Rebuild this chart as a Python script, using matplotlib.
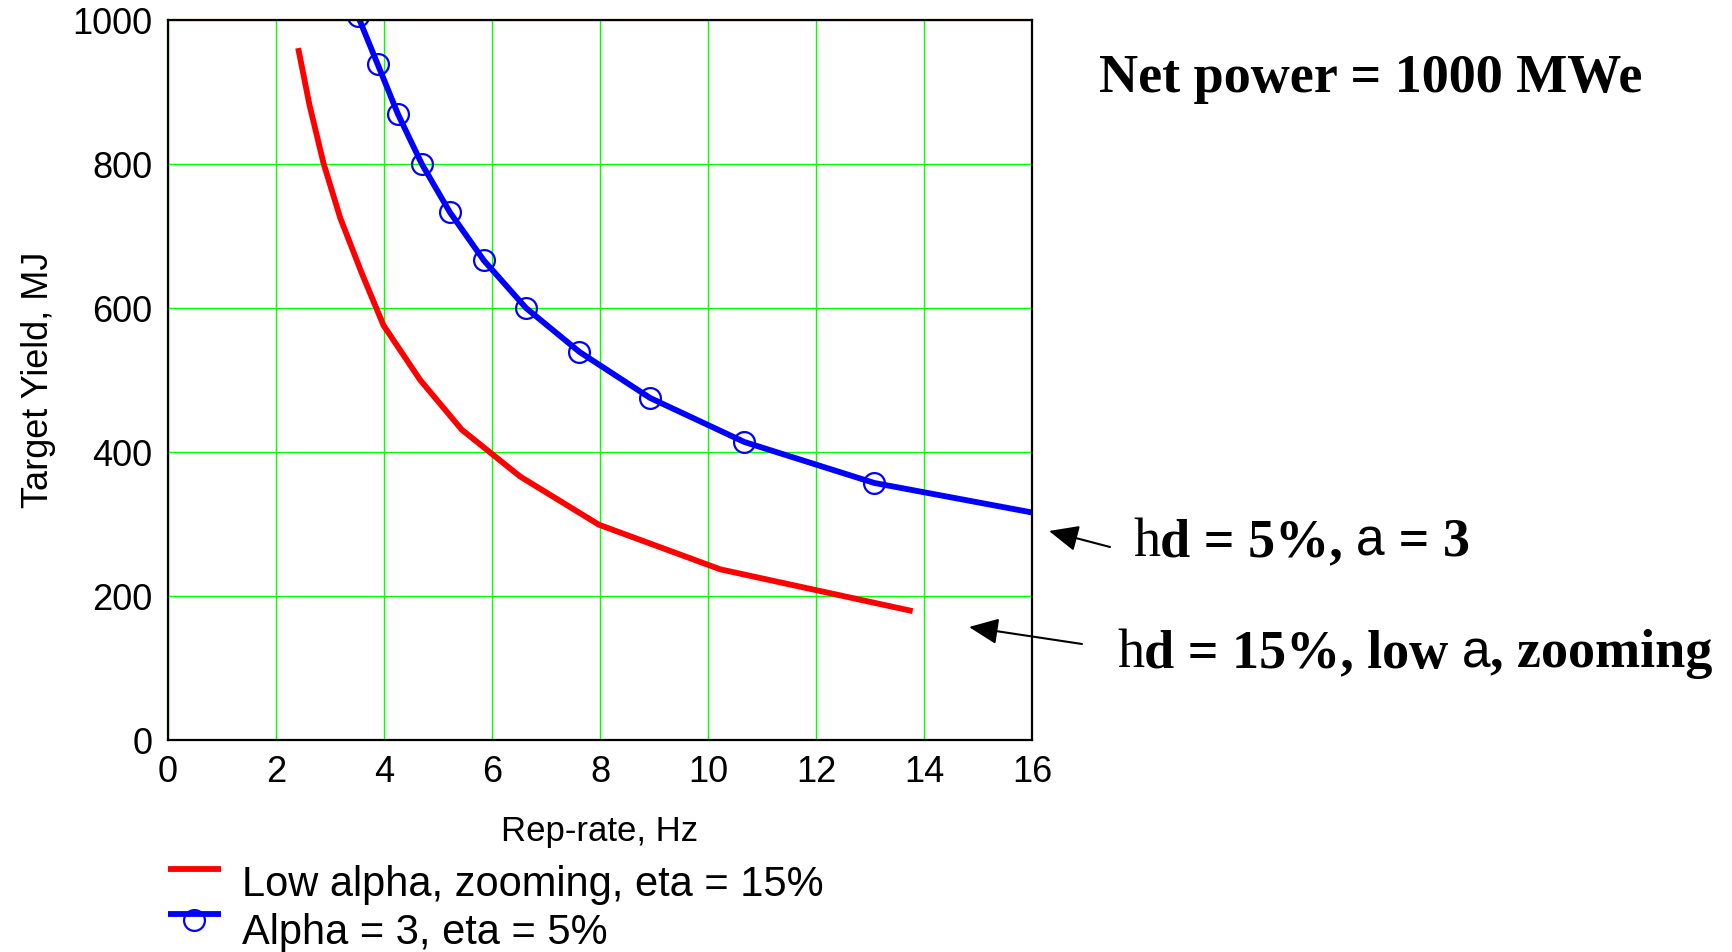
import matplotlib
matplotlib.use("Agg")
import matplotlib.pyplot as plt
from matplotlib.lines import Line2D
from matplotlib.patches import FancyArrowPatch

# ---- data ----
red_x = [2.41, 2.62, 2.88, 3.19, 3.59, 3.99, 4.67, 5.44, 6.52, 7.98, 10.23, 13.79]
red_y = [961, 882, 801, 725, 648, 576, 500, 431, 366, 299, 237, 179]

blue_x = [3.52, 3.88, 4.26, 4.70, 5.22, 5.85, 6.63, 7.62, 8.93, 10.67, 13.08]
blue_y = [1005, 939, 869, 800, 733, 666, 600, 539, 475, 414, 357]
blue_line_x = blue_x + [16.0]
blue_line_y = blue_y + [316]

x_ticks = [0, 2, 4, 6, 8, 10, 12, 14, 16]
y_ticks = [0, 200, 400, 600, 800, 1000]

legend_labels = ["Low alpha, zooming, eta = 15%", "Alpha = 3, eta = 5%"]
title_text = "Net power = 1000 MWe"
# (text, family, weight) pieces for the two curve notes
note_blue = [("h", "serif", "normal"), ("d = 5%, ", "serif", "bold"),
             ("a", "sans", "normal"), (" = 3", "serif", "bold")]
note_red = [("h", "serif", "normal"), ("d = 15%, low ", "serif", "bold"),
            ("a", "sans", "normal"), (", zooming", "serif", "bold")]

W, H = 1733, 952
fig = plt.figure(figsize=(W / 100, H / 100), dpi=100)
ax = fig.add_axes([168 / W, 1 - 740 / H, (1032 - 168) / W, (740 - 20) / H])

sans = "Liberation Sans"
serif = "Liberation Serif"
LW = 4.2

ax.plot(red_x, red_y, color="#ff0000", lw=LW, solid_capstyle="butt", zorder=3)
ax.plot(blue_line_x, blue_line_y, color="#0000ff", lw=LW, solid_capstyle="butt", zorder=3)
ax.plot(blue_x, blue_y, ls="none", marker="o", ms=15, mfc="none", mec="#0000ff",
        mew=1.6, zorder=4)

ax.set_xlim(0, 16)
ax.set_ylim(0, 1000)
ax.set_xticks(x_ticks)
ax.set_yticks(y_ticks)
ax.set_xticklabels([str(v) for v in x_ticks], fontfamily=sans, fontsize=26)
ax.set_yticklabels([str(v) for v in y_ticks], fontfamily=sans, fontsize=26)
ax.tick_params(length=0, pad=11)
ax.grid(True, color="#00ff00", lw=1.0, zorder=1)
ax.set_axisbelow(True)
for s in ax.spines.values():
    s.set_color("black")
    s.set_linewidth(1.6)
    s.set_zorder(5)

ax.set_xlabel("Rep-rate, Hz", fontfamily=sans, fontsize=25, labelpad=18)
ax.set_ylabel("Target Yield, MJ", fontfamily=sans, fontsize=26, labelpad=12)


def fx(px):
    return px / W


def fy(py):
    return 1 - py / H


# legend (manual placement)
fig.add_artist(Line2D([fx(168), fx(221)], [fy(869), fy(869)], color="#ff0000", lw=LW,
                      solid_capstyle="butt"))
fig.add_artist(Line2D([fx(168), fx(221)], [fy(914), fy(914)], color="#0000ff", lw=LW,
                      solid_capstyle="butt"))
fig.add_artist(Line2D([fx(194.5)], [fy(920)], ls="none", marker="o", ms=15, mfc="none",
                      mec="#0000ff", mew=1.6))
fig.text(fx(242), fy(885), legend_labels[0], fontfamily=sans, fontsize=30, va="center", ha="left")
fig.text(fx(242), fy(933), legend_labels[1], fontfamily=sans, fontsize=30, va="center", ha="left")

# annotations
fig.text(fx(1371), fy(79), title_text, fontfamily=serif, fontweight="bold", fontsize=39,
         ha="center", va="center")

renderer = fig.canvas.get_renderer()


def piece_text(x0, yb, pieces, size):
    x = x0
    for txt, fam, wt in pieces:
        t = fig.text(fx(x), fy(yb), txt, fontfamily=serif if fam == "serif" else sans,
                     fontweight=wt, fontsize=size if fam == "serif" else size * 0.95,
                     ha="left", va="baseline")
        bb = t.get_window_extent(renderer=renderer)
        x += bb.width


piece_text(1133, 556, note_blue, 39)
piece_text(1117, 667, note_red, 39)

for (x0, y0), (x1, y1) in [((1110, 547), (1049, 531)), ((1082, 644), (969, 627))]:
    fig.add_artist(FancyArrowPatch(
        (fx(x0), fy(y0)), (fx(x1), fy(y1)), transform=fig.transFigure,
        arrowstyle="-|>,head_length=18,head_width=8", color="black", lw=1.5,
        shrinkA=0, shrinkB=0, mutation_scale=1))

fig.savefig("out.png", dpi=100)
